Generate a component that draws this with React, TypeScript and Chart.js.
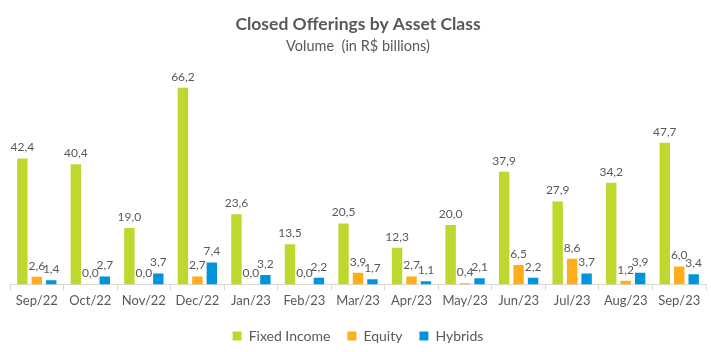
import React, { useEffect, useRef } from "react";
import { Chart, registerables } from "chart.js";

Chart.register(...registerables);

const categories = ["Sep/22", "Oct/22", "Nov/22", "Dec/22", "Jan/23", "Feb/23", "Mar/23", "Apr/23", "May/23", "Jun/23", "Jul/23", "Aug/23", "Sep/23"];
const fixedIncome = [42.4, 40.4, 19.0, 66.2, 23.6, 13.5, 20.5, 12.3, 20.0, 37.9, 27.9, 34.2, 47.7];
const equity = [2.6, 0.0, 0.0, 2.7, 0.0, 0.0, 3.9, 2.7, 0.4, 6.5, 8.6, 1.2, 6.0];
const hybrids = [1.4, 2.7, 3.7, 7.4, 3.2, 2.2, 1.7, 1.1, 2.1, 2.2, 3.7, 3.9, 3.4];

const FONT = "Lato, 'Open Sans', sans-serif";
const TEXT = "#595959";

const labelPlugin = {
  id: "barLabels",
  afterDatasetsDraw(chart: any) {
    const ctx = chart.ctx;
    ctx.save();
    ctx.font = `12px ${FONT}`;
    ctx.fillStyle = TEXT;
    ctx.textAlign = "center";
    ctx.textBaseline = "bottom";
    chart.data.datasets.forEach((ds: any, i: number) => {
      const meta = chart.getDatasetMeta(i);
      meta.data.forEach((bar: any, j: number) => {
        const v = ds.data[j] as number;
        ctx.fillText(v.toFixed(1).replace(".", ","), bar.x, bar.y - 5);
      });
    });
    ctx.restore();
  },
};

export default function App() {
  const ref = useRef<HTMLCanvasElement>(null);
  useEffect(() => {
    if (!ref.current) return;
    const chart = new Chart(ref.current, {
      type: "bar",
      data: {
        labels: categories,
        datasets: [
          { label: "Fixed Income", data: fixedIncome, backgroundColor: "#C0D72F" },
          { label: "Equity", data: equity, backgroundColor: "#FFAE1A" },
          { label: "Hybrids", data: hybrids, backgroundColor: "#0095DA" },
        ],
      },
      options: {
        animation: false,
        responsive: true,
        maintainAspectRatio: false,
        datasets: { bar: { categoryPercentage: 0.81, barPercentage: 0.72 } },
        layout: { padding: { left: 10, right: 5, top: 0, bottom: -1 } },
        scales: {
          x: {
            grid: { offset: true, drawOnChartArea: false, tickLength: 6, color: "#d9d9d9" },
            border: { color: "#d9d9d9" },
            ticks: { color: TEXT, font: { family: FONT, size: 13 }, padding: 3, maxRotation: 0, minRotation: 0, autoSkip: false },
          },
          y: { display: false, min: 0, max: 70 },
        },
        plugins: {
          title: {
            display: true,
            text: "Closed Offerings by Asset Class",
            color: TEXT,
            font: { family: FONT, size: 17.5, weight: "bold" },
            padding: { top: 14, bottom: 3 },
          },
          subtitle: {
            display: true,
            text: "Volume  (in R$ billions)",
            color: TEXT,
            font: { family: FONT, size: 14.5 },
            padding: { top: 0, bottom: 21 },
          },
          legend: {
            position: "bottom",
            labels: {
              color: TEXT,
              font: { family: FONT, size: 14 },
              boxWidth: 9,
              boxHeight: 9,
              padding: 17,
            },
          },
          tooltip: { enabled: false },
        },
      },
      plugins: [labelPlugin],
    });
    return () => chart.destroy();
  }, []);
  return (
    <div style={{ position: "absolute", left: 0, top: 0, width: 711, height: 352 }}>
      <canvas ref={ref} />
    </div>
  );
}
